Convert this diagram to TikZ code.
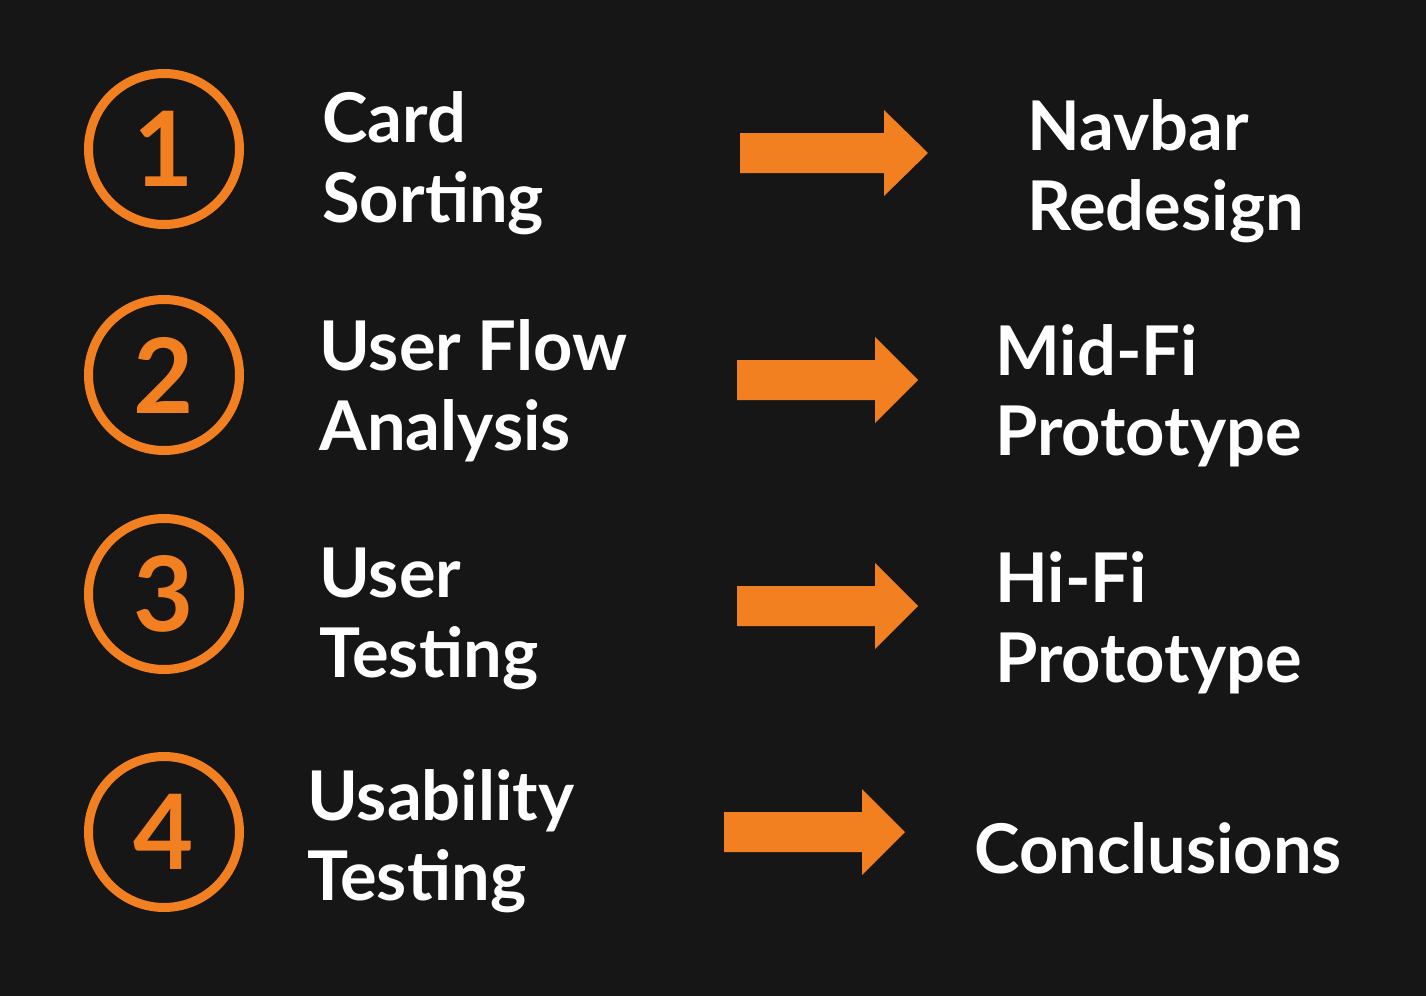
\documentclass[tikz,border=0pt]{standalone}
\usepackage{fontspec}
\setmainfont{Lato}
\definecolor{bgdark}{HTML}{161616}
\definecolor{stepor}{HTML}{F38020}

\begin{document}
\begin{tikzpicture}[x=0.5pt,y=-0.5pt,
        num node/.style={circle,draw=stepor,line width=4.5pt,minimum size=75.5pt,inner sep=0pt,
          text=stepor,font=\fontsize{52}{52}\selectfont\bfseries},
        step node/.style={anchor=base west,align=left,inner sep=0pt,text=white,
          font=\fontsize{34.3}{40}\selectfont\bfseries}]

        \fill[bgdark] (0,0) rectangle (1426,996);

        \node[num node] (num1) at (164,149) {1};
        \node[num node] (num2) at (164,375) {2};
        \node[num node] (num3) at (164,594) {3};
        \node[num node] (num4) at (164,832) {4};

        \node[step node] (step1) at (322,222) {Card\\Sorting};
        \node[step node] (step2) at (319,450) {User Flow\\Analysis};
        \node[step node] (step3) at (319,677) {User\\Testing};
        \node[step node] (step4) at (307,900) {Usability\\Testing};

        \node[step node] (out1) at (1027,230) {Navbar\\Redesign};
        \node[step node] (out2) at (995,455) {Mid-Fi\\Prototype};
        \node[step node] (out3) at (995,682) {Hi-Fi\\Prototype};
        \node[step node] (out4) at (974,873) {Conclusions};

        % block arrows
        \foreach \xa/\xb/\xc/\yc in {740/884/928/153, 737/875/918/380, 737/875/918/606, 724/862/905/832}
          \fill[stepor] (\xa,{\yc-20}) -- (\xb,{\yc-20}) -- (\xb,{\yc-43}) -- (\xc,\yc)
            -- (\xb,{\yc+43}) -- (\xb,{\yc+20}) -- (\xa,{\yc+20}) -- cycle;
      \end{tikzpicture}
\end{document}
